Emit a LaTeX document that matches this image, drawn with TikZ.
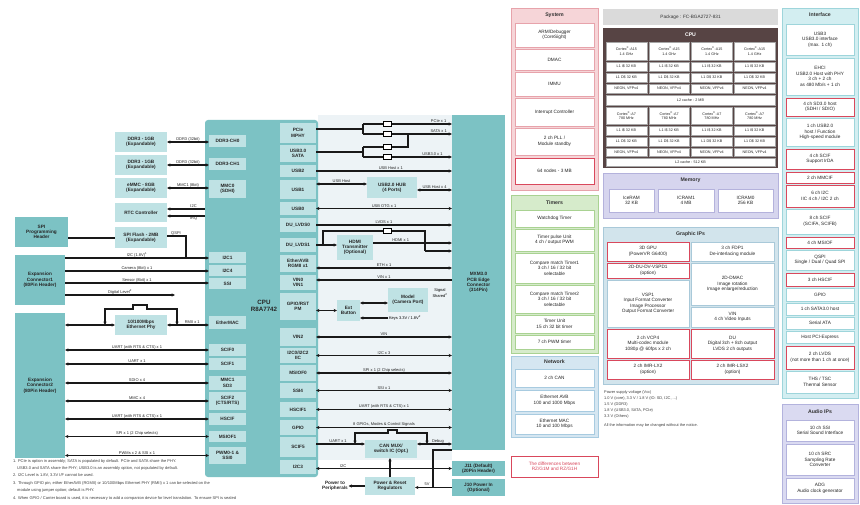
\documentclass[tikz,border=0pt]{standalone}
\usepackage{fontspec}
\setmainfont{Liberation Sans}
\usetikzlibrary{arrows.meta}
\definecolor{tealD}{HTML}{7CC2C4}
\definecolor{tealL}{HTML}{BFE2E4}
\definecolor{pinkF}{HTML}{F6D5D8}
\definecolor{pinkE}{HTML}{E7A3AB}
\definecolor{redB}{HTML}{D9485C}
\definecolor{greenF}{HTML}{D6EBCB}
\definecolor{greenE}{HTML}{A9D292}
\definecolor{netF}{HTML}{D5E6F1}
\definecolor{netE}{HTML}{A8CBE0}
\definecolor{pkgF}{HTML}{DADADA}
\definecolor{cpuF}{HTML}{574444}
\definecolor{memF}{HTML}{D6D5EE}
\definecolor{memE}{HTML}{B4B2DC}
\definecolor{grF}{HTML}{D2E4EC}
\definecolor{grE}{HTML}{A9C9D9}
\definecolor{ifF}{HTML}{D3EEF1}
\definecolor{ifE}{HTML}{9ED5DB}
\definecolor{auF}{HTML}{DADAF1}
\definecolor{auE}{HTML}{B3B3DD}
\definecolor{bgS}{HTML}{EDF3F6}
\newcommand\fntA{\fontsize{4.7}{5.3}\selectfont\bfseries}
\newcommand\fntB{\fontsize{6.2}{7.2}\selectfont\bfseries}
\newcommand\fntL{\fontsize{4}{4.6}\selectfont}
\newcommand\fntR{\fontsize{4.7}{5.5}\selectfont}
\newcommand\fntH{\fontsize{5.2}{6.2}\selectfont\bfseries}
\newcommand\fntC{\fontsize{3.7}{4.3}\selectfont}
\newcommand\fntN{\fontsize{4}{7.4}\selectfont}
\newcommand\fntS{\fontsize{3.9}{6}\selectfont}
\newcommand\bx[7]{\node[#6,anchor=north west,minimum width={#4-#2},minimum height={#5-#3}] (#1) at (#2,#3) {#7};}
\tikzset{
 base/.style={inner sep=0.4pt, outer sep=0pt, align=center},
 lt/.style={base, fill=tealL, font=\fntA, text=black!85},
 dt/.style={base, fill=tealD, font=\fntA, text=black!85},
 grp/.style 2 args={base, fill=#1, draw=#2, line width=0.7pt},
 cell/.style={base, fill=white, draw=#1, line width=0.4pt, font=\fntR, text=black!85},
 cell/.default={black!25},
 hot/.style={draw=redB, line width=0.8pt},
 hd/.style={font=\fntH, text=black!80, inner sep=0.5pt},
 cc/.style={base, fill=white, draw=black!35, line width=0.3pt, font=\fntC, text=black!85},
 ln/.style={line width=1.1pt, black!90},
 ar/.style={ln, -{Stealth[length=3.4pt,width=3.2pt]}},
 bi/.style={ln, {Stealth[length=3.4pt,width=3.2pt]}-{Stealth[length=3.4pt,width=3.2pt]}},
 lab/.style={font=\fntL, inner sep=0.5pt, anchor=south, text=black!85},
 res/.style={draw=black, fill=white, line width=0.7pt, minimum width=8pt, minimum height=4.5pt, inner sep=0pt, outer sep=0pt},
}
\begin{document}
\begin{tikzpicture}[x=1pt,y=-1pt]
\useasboundingbox (0,0) rectangle (860,505);
\fill[white] (0,0) rectangle (860,505);
\fill[bgS] (318,115) rectangle (452,460);
% ---------------- left diagram boxes
\bx{ddrA}{115}{132}{167}{152}{lt}{DDR3 - 1GB\\(Expandable)}
\bx{ddrB}{115}{155}{167}{175}{lt}{DDR3 - 1GB\\(Expandable)}
\bx{emmc}{115}{178}{167}{198}{lt}{eMMC - 8GB\\(Expandable)}
\bx{rtc}{115}{203}{167}{222}{lt}{RTC Controller}
\bx{spif}{115}{227}{167}{248}{lt}{SPI Flash - 2MB\\(Expandable)}
\bx{spih}{15}{217}{68}{247}{dt}{SPI\\Programming\\Header}
\bx{expA}{15}{255}{65}{305}{dt}{Expansion\\Connector1\\(80Pin Header)}
\bx{expB}{15}{313}{65}{458}{dt}{Expansion\\Connector2\\(80Pin Header)}
\bx{ephy}{115}{315}{167}{335}{lt}{10/100Mbps\\Ethernet Phy}
\bx{cpu}{205}{120}{318}{477}{dt,rounded corners=3pt}{}
\node[font=\fntB, align=center, text=black!85] (cpul) at (264,306) {CPU\\R8A7742};
% CPU left blocks
\bx{cA}{209}{135}{246}{147}{lt}{DDR3-CH0}
\bx{cB}{209}{158}{246}{170}{lt}{DDR3-CH1}
\bx{cC}{209}{180}{246}{198}{lt}{MMC0\\(SDHI)}
\bx{cD}{209}{252}{246}{263}{lt}{I2C1}
\bx{cE}{209}{265}{246}{276}{lt}{I2C4}
\bx{cF}{209}{278}{246}{289}{lt}{SSI}
\bx{cG}{209}{316}{246}{329}{lt}{EtherMAC}
\bx{cH}{209}{344}{246}{356}{lt}{SCIF0}
\bx{cI}{209}{358}{246}{370}{lt}{SCIF1}
\bx{cJ}{209}{376}{246}{390}{lt}{MMC1\\SD3}
\bx{cK}{209}{392}{246}{410}{lt}{SCIF2\\(CTS/RTS)}
\bx{cL}{209}{413}{246}{425}{lt}{HSCIF}
\bx{cM}{209}{431}{246}{442}{lt}{MSIOF1}
\bx{cN}{209}{447}{246}{464}{lt}{PWM0-1 \&\\SSI0}
% CPU right blocks
\bx{rA}{280}{123}{316}{143}{lt}{PCIe\\MPHY}
\bx{rB}{280}{145}{316}{162}{lt}{USB3.0\\SATA}
\bx{rC}{280}{165}{316}{177}{lt}{USB2}
\bx{rD}{280}{180}{316}{199}{lt}{USB1}
\bx{rE}{280}{202}{316}{215}{lt}{USB0}
\bx{rF}{280}{218}{316}{232}{lt}{DU\_LVDS0}
\bx{rG}{280}{238}{316}{252}{lt}{DU\_LVDS1}
\bx{rH}{280}{255}{316}{272}{lt}{EtherAVB\\RGMII x1}
\bx{rI}{280}{275}{316}{290}{lt}{VIN0\\VIN1}
\bx{rJ}{280}{293}{316}{320}{lt}{GPIO/RST\\PM}
\bx{rK}{280}{328}{316}{346}{lt}{VIN2}
\bx{rL}{280}{348}{316}{363}{lt}{I2C0/I2C2\\IIC}
\bx{rM}{280}{365}{316}{381}{lt}{MSIOF0}
\bx{rN}{280}{383}{316}{398}{lt}{SSI4}
\bx{rO}{280}{402}{316}{417}{lt}{HSCIF1}
\bx{rP}{280}{420}{316}{435}{lt}{GPIO}
\bx{rQ}{280}{437}{316}{457}{lt}{SCIF5}
\bx{rR}{280}{460}{316}{474}{lt}{I2C3}
% connector and peripherals
\bx{conn}{452}{115}{505}{450}{dt}{MXM3.0\\PCB Edge\\Connector\\(314Pin)}
\bx{jA}{452}{461}{505}{476}{dt}{J11 (Default)\\(20Pin Header)}
\bx{jB}{452}{479}{505}{496}{dt}{J10 Power In\\(Optional)}
\bx{hub}{367}{177}{417}{198}{lt}{USB2.0 HUB\\(4 Ports)}
\bx{hdmi}{337}{235}{373}{260}{lt}{HDMI\\Transmitter\\(Optional)}
\bx{btn}{337}{300}{360}{321}{lt}{Ext\\Button}
\bx{cam}{388}{288}{428}{312}{lt}{Model\\(Camera Port)}
\bx{can}{365}{440}{417}{458}{lt}{CAN MUX/\\switch IC (Opt.)}
\bx{pwr}{365}{477}{415}{495}{lt}{Power \& Reset\\Regulators}
% ---------------- left connectors
\draw[bi] (ddrA.east) -- (ddrA.east -| cA.west) node[lab,midway] (lddrA) {DDR3 (32bit)};
\draw[bi] (ddrB.east) -- (ddrB.east -| cB.west) node[lab,midway] (lddrB) {DDR3 (32bit)};
\draw[bi] (emmc.east) -- (emmc.east -| cC.west) node[lab,midway] (lemmc) {MMC1 (8bit)};
\draw[ar] (cpu.west |- 0,209) -- (rtc.east |- 0,209) node[lab,pos=0.3] (lrtcA) {I2C};
\draw[ar] (cpu.west |- 0,216) -- (rtc.east |- 0,216) node[lab,pos=0.3,anchor=north] (lrtcB) {IRQ};
\draw[ln] (spih.east |- 0,238) -- (spif.west |- 0,238);
\coordinate (jq) at (186,258);
\draw[ln] (spif.east |- 0,236) -| (jq);
\node[lab] (lqspi) at (176,236) {QSPI};
\draw[ar] (expA.east |- 0,258) -- (cD.west |- 0,258) node[lab,midway] (lxA) {I2C (1.8V)\textsuperscript{1}};
\draw[ar] (expA.east |- 0,271) -- (cE.west |- 0,271) node[lab,midway] (lxB) {Camera (8bit) x 1};
\draw[ar] (expA.east |- 0,283) -- (cF.west |- 0,283) node[lab,midway] (lxC) {Sensor (8bit) x 1};
\coordinate (xD) at (175,295);
\draw[ar] (expA.east |- 0,295) -- (xD) node[lab,midway] (lxD) {Digital Level\textsuperscript{2}};
\draw[bi] (expB.east |- ephy.west) -- (ephy.west);
\draw[bi] (ephy.east) -- (ephy.east -| cG.west) node[lab,pos=0.6] (lrmii) {RMII x 1};
\coordinate (bA) at (105,325); \coordinate (bB) at (177,325);
\draw[bi] (bA) -- (105,309) -- (133,309) -- (133,305) -- (147,305) -- (147,309) -- (177,309) -- (bB);
\draw[bi] (cH.west) -- (cH.west -| expB.east) node[lab,midway] (lH) {UART (with RTS \& CTS) x 1};
\draw[bi] (cI.west) -- (cI.west -| expB.east) node[lab,midway] (lI) {UART x 1};
\draw[bi] (cJ.west) -- (cJ.west -| expB.east) node[lab,midway] (lJ) {SDIO x 4};
\draw[bi] (cK.west) -- (cK.west -| expB.east) node[lab,midway] (lK) {MMC x 4};
\draw[bi] (cL.west) -- (cL.west -| expB.east) node[lab,midway] (lL) {UART (with RTS \& CTS) x 1};
\draw[bi] (cM.west) -- (cM.west -| expB.east) node[lab,midway] (lM) {SPI x 1 (2 Chip selects)};
\draw[bi] (cN.west) -- (cN.west -| expB.east) node[lab,midway] (lN) {PWMs x 2 \& SSI x 1};
% ---------------- right connectors
\coordinate (mA) at (363,129); \coordinate (mA1) at (363,124); \coordinate (mA2) at (363,134);
\draw[ln] (rA.east |- mA) -- (mA); \draw[ln] (mA1) -- (mA2);
\draw[ar] (mA1) -- (conn.west |- mA1) node[lab,pos=0.85] (lpcie) {PCIe x 1};
\draw[ar] (mA2) -- (conn.west |- mA2) node[lab,pos=0.85] (lsata) {SATA x 1};
\coordinate (mB) at (363,152); \coordinate (mB1) at (363,147); \coordinate (mB2) at (363,157); \coordinate (mB3) at (408,134);
\draw[ln] (rB.east |- mB) -- (mB); \draw[ln] (mB1) -- (mB2);
\draw[ln] (mB1) -| (mB3);
\draw[ar] (mB2) -- (conn.west |- mB2) node[lab,pos=0.78] (lusb3) {USB3.0 x 1};
\node[res] (rs1) at (387.5,124) {}; \node[res] (rs2) at (387.5,134) {};
\node[res] (rs3) at (387.5,147) {}; \node[res] (rs4) at (387.5,157) {};
\draw[ar] (rC.east) -- (rC.east -| conn.west) node[lab,pos=0.55] (lusbh) {USB Host x 1};
\draw[bi] (rD.east |- 0,184) -- (hub.west |- 0,184) node[lab,midway] (lhubA) {USB Host};
\draw[bi] (hub.east |- 0,190) -- (conn.west |- 0,190) node[lab,midway] (lhubB) {USB Host x 4};
\draw[bi] (rE.east) -- (rE.east -| conn.west) node[lab,pos=0.5] (lotg) {USB OTG x 1};
\draw[ar] (rF.east) -- (rF.east -| conn.west) node[lab,pos=0.5] (llvds) {LVDS x 1};
\draw[ar] (rG.east) -- (rG.east -| hdmi.west);
\coordinate (hA) at (323,245); \coordinate (hB) at (425,231); \coordinate (hC) at (425,251);
\draw[ln] (hA) |- (hB) -- (hC);
\draw[ar] (hC) -- (conn.west |- hC);
\node[res] (rs5) at (387.5,231) {};
\draw[ar] (hdmi.east |- 0,243) -- (conn.west |- 0,243) node[lab,pos=0.35] (lhdmi) {HDMI x 1};
\draw[bi] (rH.east |- 0,268) -- (conn.west |- 0,268) node[lab,midway] (leth) {ETH x 1};
\draw[ar] (conn.west |- 0,280) -- (rI.east |- 0,280) node[lab,midway] (lvin) {VIN x 1};
\draw[bi] (rJ.east |- btn.west) -- (btn.west);
\draw[bi] (btn.east |- 0,303) -- (cam.west |- 0,303);
\node[font=\fntL, inner sep=0.5pt] (kl) at (405,318) {Keys 3.3V / 1.8V\textsuperscript{2}};
\draw[ar] (kl.west) -- (kl.west -| btn.east);
\node[font=\fntL, align=center, inner sep=0.5pt] (sg) at (440,293) {Signal\\Shared\textsuperscript{2}};
\draw[bi] (rK.east) -- (rK.east -| conn.west) node[lab,midway] (lk) {VIN};
\draw[bi] (rL.east) -- (rL.east -| conn.west) node[lab,midway] (ll) {I2C x 3};
\draw[bi] (rM.east) -- (rM.east -| conn.west) node[lab,midway] (lm) {SPI x 1 (2 Chip selects)};
\draw[bi] (rN.east) -- (rN.east -| conn.west) node[lab,midway] (lnn) {SSI x 1};
\draw[bi] (rO.east) -- (rO.east -| conn.west) node[lab,midway] (lo) {UART (with RTS \& CTS) x 1};
\draw[bi] (rP.east) -- (rP.east -| conn.west) node[lab,midway] (lp) {8 GPIOs, Modes \& Control Signals};
\draw[ar] (rQ.east |- 0,444) -- (can.west |- 0,444) node[lab,pos=0.45] (lq) {UART x 1};
\draw[bi] (can.east |- 0,444) -- (conn.west |- 0,444) node[lab,pos=0.6] (ldbg) {Debug};
\coordinate (kA) at (355,444); \coordinate (kB) at (427,444);
\draw[bi] (kA) -- (355,433) -- (388,433) -- (388,430) -- (397,430) -- (397,433) -- (427,433) -- (kB);
\draw[bi] (rR.east |- jA.west) -- (jA.west) node[lab,pos=0.2] (lr) {I2C};
\draw[ar] (pwr.north) -- (pwr.north |- can.south);
\node[font=\fntA, align=center, inner sep=0.5pt, text=black!85] (pp) at (335,486) {Power to\\Peripherals};
\draw[ar] (pwr.west) -- (pwr.west -| pp.east);
\coordinate (vB) at (433,487.5);
\draw[ln] (conn.south west) -| (vB);
\draw[ar] (jB.west) -- (jB.west -| pwr.east);
\node[lab] (l5v) at (427,486) {5V};
% notes
\node[anchor=north west, font=\fntN, align=left, inner sep=0, text=black!75] (notes) at (13,459) {1. PCIe is option in assembly; SATA is populated by default. PCIe and SATA share the PHY.\\
\hspace*{4pt}USB3.0 and SATA share the PHY; USB3.0 is an assembly option, not populated by default.\\
2. I2C Level is 1.8V, 3.3V I/F cannot be used.\\
3. Through GPIO pin, either EtherAVB (RGMII) or 10/100Mbps Ethernet PHY (RMII) x 1 can be selected on the\\
\hspace*{4pt}module using jumper option; default is PHY.\\
4. When GPIO / Carrier board is used, it is necessary to add a companion device for level translation. To ensure SPI is sealed};
% ---------------- right part
\bx{sys}{511}{8}{598}{190}{grp={pinkF}{pinkE}}{}
\node[hd] (sysh) at (554.5,15.5) {System};
\bx{sA}{515}{23}{594}{47}{cell=pinkE}{ARM/Debugger\\(CoreSight)}
\bx{sB}{515}{49}{594}{70}{cell=pinkE}{DMAC}
\bx{sC}{515}{72}{594}{96}{cell=pinkE}{IMMU}
\bx{sD}{515}{98}{594}{126}{cell=pinkE}{Interrupt Controller}
\bx{sE}{515}{128}{594}{155}{cell=pinkE}{2 ch PLL /\\Module standby}
\bx{sF}{515}{158}{594}{184}{cell=pinkE,hot}{64 nodes - 3 MB}
\bx{tim}{511}{195}{598}{353}{grp={greenF}{greenE}}{}
\node[hd] (timh) at (554.5,202.5) {Timers};
\bx{tA}{515}{210}{594}{227}{cell=greenE}{Watchdog Timer}
\bx{tB}{515}{229}{594}{251}{cell=greenE}{Timer pulse Unit\\4 ch / output PWM}
\bx{tC}{515}{253}{594}{283}{cell=greenE}{Compare match Timer1\\3 ch / 16 / 32 bit\\selectable}
\bx{tD}{515}{285}{594}{313}{cell=greenE}{Compare match Timer2\\3 ch / 16 / 32 bit\\selectable}
\bx{tE}{515}{315}{594}{333}{cell=greenE}{Timer Unit\\15 ch 32 bit timer}
\bx{tF}{515}{335}{594}{349}{cell=greenE}{7 ch PWM timer}
\bx{net}{511}{356}{598}{437}{grp={netF}{netE}}{}
\node[hd] (neth) at (554.5,362) {Network};
\bx{nA}{515}{369}{594}{387}{cell=netE}{2 ch CAN}
\bx{nB}{515}{390}{594}{411}{cell=netE}{Ethernet AVB\\100 and 1000 Mbps}
\bx{nC}{515}{414}{594}{434}{cell=netE}{Ethernet MAC\\10 and 100 Mbps}
\bx{diff}{511}{456}{598}{477}{cell=redB,text=redB}{The differences between\\RZ/G1M and RZ/G1H}
% package / CPU
\bx{pkg}{603}{9}{778}{25}{base,fill=pkgF,font=\fntR,text=black!80}{Package : FC-BGA2727-831}
\bx{cpub}{603}{28}{778}{168}{base,fill=cpuF}{}
\node[hd,text=white] (cpuh) at (690.5,35) {CPU};
\foreach \x [count=\i] in {606,648.75,691.5,734.25} {
 \bx{kA\i}{\x}{42}{\x+40.75}{60}{cc}{Cortex\textsuperscript{\textregistered}-A15\\1.4 GHz}
 \bx{kB\i}{\x}{62}{\x+40.75}{71}{cc}{L1 I\$ 32 KB}
 \bx{kC\i}{\x}{73}{\x+40.75}{82}{cc}{L1 D\$ 32 KB}
 \bx{kD\i}{\x}{84}{\x+40.75}{93}{cc}{NEON, VFPv4}
 \bx{kE\i}{\x}{107}{\x+40.75}{124}{cc}{Cortex\textsuperscript{\textregistered}-A7\\780 MHz}
 \bx{kF\i}{\x}{126}{\x+40.75}{135}{cc}{L1 I\$ 32 KB}
 \bx{kG\i}{\x}{137}{\x+40.75}{146}{cc}{L1 D\$ 32 KB}
 \bx{kH\i}{\x}{148}{\x+40.75}{156}{cc}{NEON, VFPv4}
}
\bx{l2a}{606}{95}{775}{105}{cc}{L2 cache : 2 MB}
\bx{l2b}{606}{158}{775}{166}{cc}{L2 cache : 512 KB}
% memory
\bx{mem}{603}{173}{778}{218}{grp={memF}{memE}}{}
\node[hd] (memh) at (690.5,180.5) {Memory};
\bx{mA}{609}{189}{654}{212}{cell=memE}{IceRAM\\32 KB}
\bx{mB}{658}{189}{714}{212}{cell=memE}{ICRAM1\\4 MB}
\bx{mC}{718}{189}{773}{212}{cell=memE}{ICRAM0\\256 KB}
% graphic IPs
\bx{gra}{603}{227}{778}{384}{grp={grF}{grE}}{}
\node[hd] (grah) at (690.5,234.5) {Graphic IPs};
\bx{gA}{607}{242}{689}{261}{cell=grE,hot}{3D GPU\\(PowerVR G6400)}
\bx{gB}{691}{242}{774}{261}{cell=grE}{3 ch FDP1\\De-interlacing module}
\bx{gC}{607}{263}{689}{278}{cell=grE,hot}{2D-DU-DV-VSPD1\\(option)}
\bx{gD}{691}{263}{774}{305}{cell=grE}{2D-DMAC\\Image rotation\\Image enlarge/reduction}
\bx{gE}{607}{280}{689}{327}{cell=grE}{VSP1\\Input Format Converter\\Image Processor\\Output Format Converter}
\bx{gF}{691}{307}{774}{327}{cell=grE}{VIN\\4 ch Video Inputs}
\bx{gG}{607}{329}{689}{358}{cell=grE,hot}{2 ch VCP4\\Multi-codec module\\1080p @ 60fps x 2 ch}
\bx{gH}{691}{329}{774}{358}{cell=grE,hot}{DU\\Digital 3ch + 8ch output\\LVDS 2 ch outputs}
\bx{gI}{607}{360}{689}{379}{cell=grE,hot}{2 ch IMR-LX2\\(option)}
\bx{gJ}{691}{360}{774}{379}{cell=grE,hot}{2 ch IMR-LSX2\\(option)}
\node[anchor=north west, font=\fntS, align=left, inner sep=0, text=black!75] (vnote) at (604,390) {Power supply voltage (Vcc)\\1.0 V (core), 3.3 V / 1.8 V (IO: SD, I2C, ...)\\1.5 V (DDR3)\\1.8 V (USB3.0, SATA, PCIe)\\3.3 V (Others)\\[3pt]All the information may be changed without the notice.};
% interface
\bx{ifc}{782}{8}{858}{398}{grp={ifF}{ifE}}{}
\node[hd] (ifch) at (820,15) {Interface};
\bx{iA}{786}{24}{854}{55}{cell=ifE}{USB3\\USB3.0 interface\\(max. 1 ch)}
\bx{iB}{786}{58}{854}{95}{cell=ifE}{EHCI\\USB2.0 Host with PHY\\3 ch + 2 ch\\as 480 Mb/s + 1 ch}
\bx{iC}{786}{98}{854}{116}{cell=ifE,hot}{4 ch SD3.0 host\\(SDHI / SDIO)}
\bx{iD}{786}{118}{854}{146}{cell=ifE}{1 ch USB2.0\\host / Function\\High-speed module}
\bx{iE}{786}{149}{854}{169}{cell=ifE,hot}{4 ch SCIF\\Support IrDA}
\bx{iF}{786}{172}{854}{183}{cell=ifE,hot}{2 ch MMCIF}
\bx{iG}{786}{185}{854}{207}{cell=ifE,hot}{6 ch I2C\\IIC 4 ch / I2C 2 ch}
\bx{iH}{786}{209}{854}{234}{cell=ifE}{8 ch SCIF\\(SCIFA, SCIFB)}
\bx{iI}{786}{237}{854}{248}{cell=ifE,hot}{4 ch MSIOF}
\bx{iJ}{786}{250}{854}{270}{cell=ifE}{QSPI\\Single / Dual / Quad SPI}
\bx{iK}{786}{273}{854}{286}{cell=ifE,hot}{3 ch HSCIF}
\bx{iL}{786}{288}{854}{301}{cell=ifE}{GPIO}
\bx{iM}{786}{303}{854}{315}{cell=ifE}{1 ch SATA3.0 host}
\bx{iN}{786}{317}{854}{329}{cell=ifE}{Serial ATA}
\bx{iO}{786}{331}{854}{343}{cell=ifE}{Host PCI-Express}
\bx{iP}{786}{346}{854}{369}{cell=ifE,hot}{2 ch LVDS\\(not more than 1 ch at once)}
\bx{iQ}{786}{371}{854}{393}{cell=ifE}{THS / TSC\\Thermal Sensor}
% audio
\bx{aud}{782}{404}{858}{503}{grp={auF}{auE}}{}
\node[hd] (audh) at (820,412) {Audio IPs};
\bx{aA}{786}{420}{854}{441}{cell=auE}{10 ch SSI\\Serial Sound Interface}
\bx{aB}{786}{444}{854}{475}{cell=auE}{10 ch SRC\\Sampling Rate\\Converter}
\bx{aC}{786}{478}{854}{499}{cell=auE}{ADG\\Audio clock generator}
\end{tikzpicture}
\end{document}
